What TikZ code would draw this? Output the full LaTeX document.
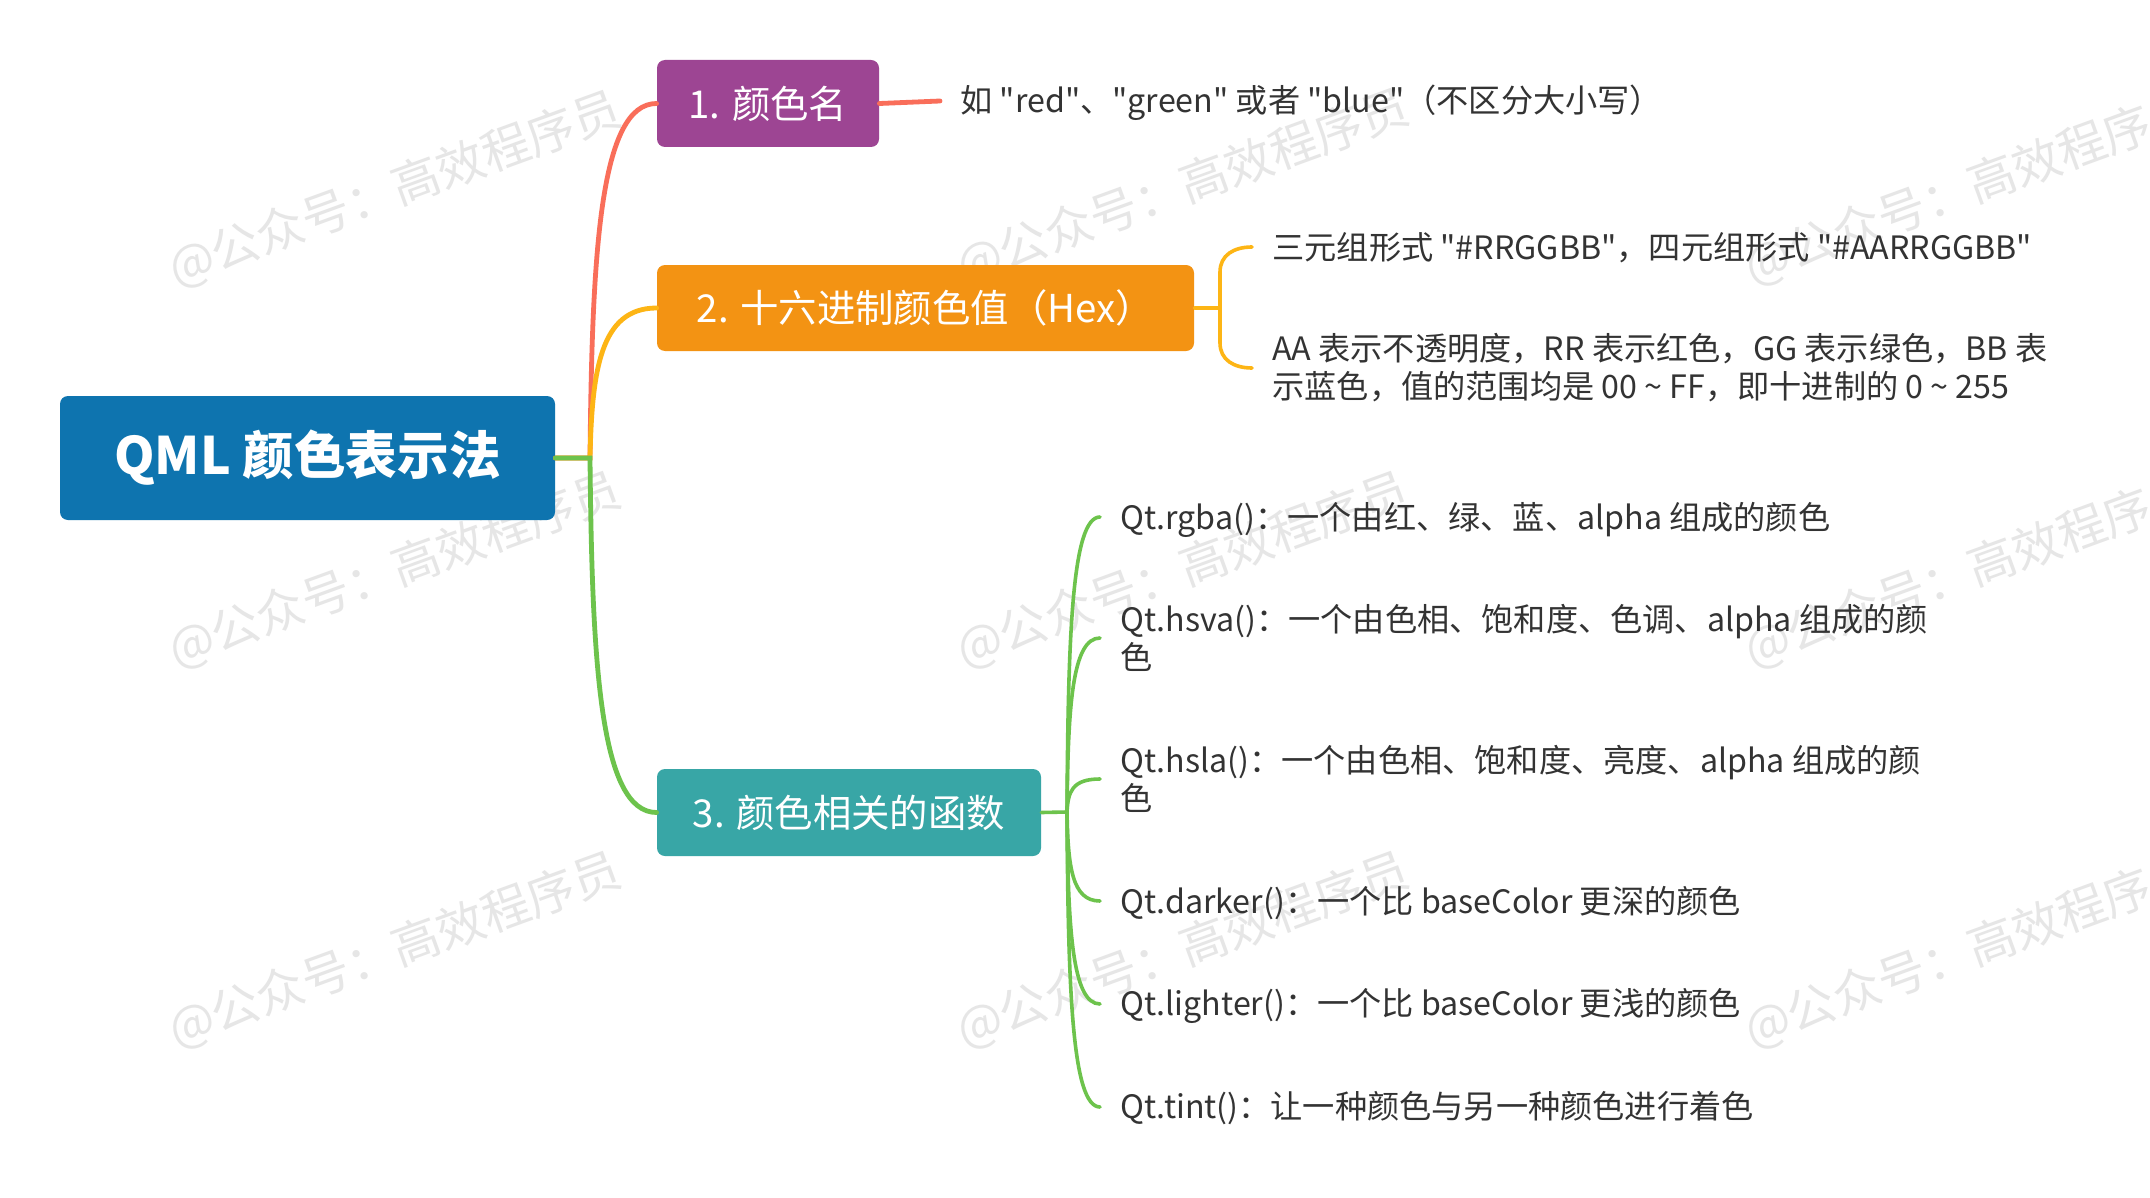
\documentclass[tikz,border=0pt]{standalone}
\usepackage{fontspec}
\setmainfont{Noto Sans CJK SC}[Ligatures=TeXOff]
\definecolor{rootblue}{HTML}{0E74AF}
\definecolor{purplebox}{HTML}{9D4593}
\definecolor{orangebox}{HTML}{F39313}
\definecolor{tealbox}{HTML}{38A6A6}
\definecolor{redline}{HTML}{F96E5A}
\definecolor{orangeline}{HTML}{FDB515}
\definecolor{greenline}{HTML}{6DC34C}
\definecolor{txt}{HTML}{333333}
\definecolor{wm}{HTML}{E6E6E6}
\begin{document}
\begin{tikzpicture}[x=0.5pt,y=-0.5pt,
  topicbox/.style={rounded corners=4pt, inner sep=0pt, text=white, font=\fontsize{19.2}{23}\selectfont},
  leaf/.style={inner sep=0pt, text=txt, font=\fontsize{16.1}{19}\selectfont, align=left},
  wmark/.style={rotate=20, text=wm, inner sep=0pt, font=\fontsize{24}{28}\selectfont},
  mainline/.style={line width=2.4pt, line cap=round},
  subline/.style={line width=1.8pt, line cap=round}]
\useasboundingbox[fill=white] (0,0) rectangle (2150,1198);
% watermarks
\begin{scope}
\clip (0,0) rectangle (2150,1198);
\foreach \wx/\wy [count=\i] in {395/190,1183/188,1971/188,395/571,1183/571,1971/571,395/951,1183/951,1971/951}
  \node[wmark] (wm\i) at (\wx,\wy) {@公众号：高效程序员};
\end{scope}
% topic boxes
\node[topicbox, fill=rootblue, minimum width=247.5pt, minimum height=62pt,
      font=\fontsize{25.8}{30}\selectfont\bfseries] (root) at (307.5,458) {QML 颜色表示法};
\node[topicbox, fill=purplebox, minimum width=111pt, minimum height=43.5pt] (n1) at (768,103.5) {1. 颜色名};
\node[topicbox, fill=orangebox, minimum width=268.5pt, minimum height=43pt] (n2) at (925.5,308) {2. 十六进制颜色值（Hex）};
\node[topicbox, fill=tealbox, minimum width=192pt, minimum height=43.5pt] (n3) at (849,812.5) {3. 颜色相关的函数};
% leaves
\node[leaf, anchor=base west] (l1) at (960,113) {如 "red"、"green" 或者 "blue"（不区分大小写）};
\node[leaf, anchor=base west] (l21) at (1272,259) {三元组形式 "\#RRGGBB"，四元组形式 "\#AARRGGBB"};
\node[leaf, anchor=west] (l22) at (1272,368) {AA 表示不透明度，RR 表示红色，GG 表示绿色，BB 表\\示蓝色，值的范围均是 00 \textasciitilde{} FF，即十进制的 0 \textasciitilde{} 255};
\node[leaf, anchor=base west] (l31) at (1120,529) {Qt.rgba()：一个由红、绿、蓝、alpha 组成的颜色};
\node[leaf, anchor=west] (l32) at (1120,638) {Qt.hsva()：一个由色相、饱和度、色调、alpha 组成的颜\\色};
\node[leaf, anchor=west] (l33) at (1120,779) {Qt.hsla()：一个由色相、饱和度、亮度、alpha 组成的颜\\色};
\node[leaf, anchor=base west] (l34) at (1120,913) {Qt.darker()：一个比 baseColor 更深的颜色};
\node[leaf, anchor=base west] (l35) at (1120,1015) {Qt.lighter()：一个比 baseColor 更浅的颜色};
\node[leaf, anchor=base west] (l36) at (1120,1118) {Qt.tint()：让一种颜色与另一种颜色进行着色};
% connector coordinates
\coordinate (j0) at (590,458);
\coordinate (e1) at (940,101);
\coordinate (j2) at (1220,308);
\coordinate (e21) at (1252,247);
\coordinate (e22) at (1252,368);
\coordinate (j3) at (1067,812);
\coordinate (e31) at (1100,517);
\coordinate (e32) at (1100,638);
\coordinate (e33) at (1100,779);
\coordinate (e34) at (1100,901);
\coordinate (e35) at (1100,1004);
\coordinate (e36) at (1100,1107);
% root branches
\draw[mainline, redline] (root.east) -- (j0) .. controls (592,251) and (600,103.5) .. (n1.west);
\draw[mainline, orangeline] (root.east) -- (j0) .. controls (592,371) and (600,308) .. (n2.west);
\draw[mainline, greenline] (root.east) -- (j0) .. controls (592,664) and (600,812.5) .. (n3.west);
% node 1 leaf
\draw[mainline, redline] (n1.east) -- (e1);
% node 2 leaves
\draw[subline, orangeline] (n2.east) -- (j2) -- (1220,272) .. controls (1220,255) and (1234,247) .. (e21);
\draw[subline, orangeline] (j2) -- (1220,343) .. controls (1220,360) and (1234,368) .. (e22);
% node 3 leaves
\draw[subline, greenline] (n3.east) -- (j3);
\draw[subline, greenline] (j3) .. controls (1068,635) and (1072,517) .. (e31);
\draw[subline, greenline] (j3) .. controls (1068,707) and (1072,638) .. (e32);
\draw[subline, greenline] (j3) .. controls (1068,792) and (1072,779) .. (e33);
\draw[subline, greenline] (j3) .. controls (1068,867) and (1072,901) .. (e34);
\draw[subline, greenline] (j3) .. controls (1068,928) and (1072,1004) .. (e35);
\draw[subline, greenline] (j3) .. controls (1068,989) and (1072,1107) .. (e36);
\end{tikzpicture}
\end{document}
